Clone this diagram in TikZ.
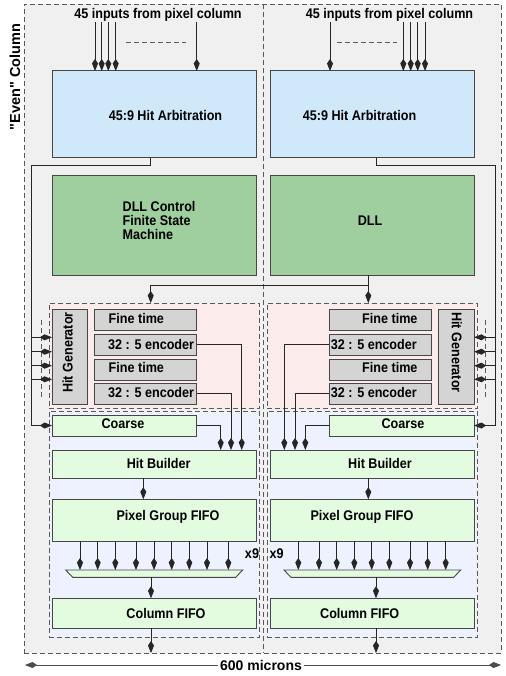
\documentclass[tikz,border=0pt]{standalone}
\usepackage{fontspec}
\setmainfont{Liberation Sans}[FakeStretch=0.9]
\newfontfamily\widefont{Liberation Sans}
\usetikzlibrary{arrows.meta}
\definecolor{bgc}{HTML}{F0F0F0}
\definecolor{pinkc}{HTML}{FCEBEB}
\definecolor{bluec}{HTML}{EEF2FE}
\definecolor{halc}{HTML}{CFE9FB}
\definecolor{dllc}{HTML}{9FCE9F}
\definecolor{lgc}{HTML}{E3FBDF}
\definecolor{grc}{HTML}{D4D4D4}
\begin{document}
\begin{tikzpicture}[x=1pt,y=-1pt,
  lbl/.style={font=\fontsize{14}{14}\selectfont\bfseries, inner sep=0pt, text height=10.2pt, text depth=0pt},
  blk/.style={draw=black!72, line width=1pt, inner sep=0pt, outer sep=0pt, anchor=north west},
  region/.style={draw=black!65, line width=0.8pt, dash pattern=on 5pt off 3pt, inner sep=0pt, outer sep=0pt, anchor=north west},
  dsh/.style={draw=black!65, line width=0.8pt, dash pattern=on 5pt off 3pt},
  wire/.style={draw=black!85, line width=0.9pt},
  arr/.style={wire, -{Kite[length=12pt,width=6pt,inset=4.5pt]}},
  dimarr/.style={draw=black!70, line width=0.8pt, -{Kite[length=12pt,width=6pt,inset=4.5pt]}}]
\useasboundingbox (0,0) rectangle (505,676);

% outer background
\node[region, fill=bgc, minimum width=477pt, minimum height=649pt] (outer) at (24,4) {};
\coordinate (midtop) at (263,4);
\draw[dsh] (midtop) -- (midtop |- outer.south);

% regions
\node[region, fill=pinkc, minimum width=210.5pt, minimum height=105pt] (pinkL) at (49,303) {};
\node[region, fill=pinkc, minimum width=210.5pt, minimum height=105pt] (pinkR) at (267,303) {};
\node[region, fill=bluec, minimum width=210.5pt, minimum height=226pt] (blueL) at (49,411) {};
\node[region, fill=bluec, minimum width=210.5pt, minimum height=226pt] (blueR) at (267,411) {};

% blocks
\node[blk, fill=halc, minimum width=204pt, minimum height=87pt] (haL) at (52,71) {};
\node[blk, fill=halc, minimum width=204pt, minimum height=87pt] (haR) at (270,71) {};
\node[blk, fill=dllc, minimum width=204pt, minimum height=99pt] (dllL) at (52,176) {};
\node[blk, fill=dllc, minimum width=204pt, minimum height=99pt] (dllR) at (270,176) {};
\node[blk, fill=grc, minimum width=35.5pt, minimum height=95pt] (hgL) at (52,309.3) {};
\node[blk, fill=grc, minimum width=35.5pt, minimum height=95pt] (hgR) at (438.5,309.3) {};
\node[blk, fill=grc, minimum width=102pt, minimum height=21.4pt] (ftL1) at (94.7,309.3) {};
\node[blk, fill=grc, minimum width=102pt, minimum height=21pt] (encL1) at (94.7,334.3) {};
\node[blk, fill=grc, minimum width=102pt, minimum height=21pt] (ftL2) at (94.7,359) {};
\node[blk, fill=grc, minimum width=102pt, minimum height=21pt] (encL2) at (94.7,383.3) {};
\node[blk, fill=grc, minimum width=102.4pt, minimum height=21.4pt] (ftR1) at (329.3,309.3) {};
\node[blk, fill=grc, minimum width=102.4pt, minimum height=21pt] (encR1) at (329.3,334.3) {};
\node[blk, fill=grc, minimum width=102.4pt, minimum height=21pt] (ftR2) at (329.3,359) {};
\node[blk, fill=grc, minimum width=102.4pt, minimum height=21pt] (encR2) at (329.3,383.3) {};
\node[blk, fill=lgc, minimum width=144.7pt, minimum height=21pt] (coL) at (52,415) {};
\node[blk, fill=lgc, minimum width=144.7pt, minimum height=21pt] (coR) at (329.3,415) {};
\node[blk, fill=lgc, minimum width=204pt, minimum height=28.3pt] (hbL) at (52,450) {};
\node[blk, fill=lgc, minimum width=204pt, minimum height=28.3pt] (hbR) at (270,450) {};
\node[blk, fill=lgc, minimum width=204pt, minimum height=41.7pt] (pgL) at (52,499.3) {};
\node[blk, fill=lgc, minimum width=204pt, minimum height=41.7pt] (pgR) at (270,499.3) {};
\node[blk, fill=lgc, minimum width=204pt, minimum height=30pt] (cfL) at (52,598.3) {};
\node[blk, fill=lgc, minimum width=204pt, minimum height=30pt] (cfR) at (270,598.3) {};

% multiplexers
\node[inner sep=0pt, outer sep=0pt, anchor=north west, minimum width=177pt, minimum height=7.3pt] (muxL) at (65.7,570) {};
\node[inner sep=0pt, outer sep=0pt, anchor=north west, minimum width=176.7pt, minimum height=7.3pt] (muxR) at (284,570) {};
\draw[draw=black!72, line width=0.9pt, fill=lgc] (muxL.north west) -- (muxL.north east) -- ([xshift=-7pt]muxL.south east) -- ([xshift=7pt]muxL.south west) -- cycle;
\draw[draw=black!72, line width=0.9pt, fill=lgc] (muxR.north west) -- (muxR.north east) -- ([xshift=-7pt]muxR.south east) -- ([xshift=7pt]muxR.south west) -- cycle;

% texts
\node[lbl] (t45L) at (158,13.3) {45 inputs from pixel column};
\node[lbl] (t45R) at (389.5,13.3) {45 inputs from pixel column};
\node[lbl] (tHAL) at (165.5,115) {45:9 Hit Arbitration};
\node[lbl] (tHAR) at (359.5,115) {45:9 Hit Arbitration};
\node[font=\fontsize{14}{13.8}\selectfont\bfseries, inner sep=0pt, align=left, anchor=west] (tDC) at (122.5,220.5) {DLL Control\\Finite State\\Machine};
\node[lbl] (tDLL) at (370,220.5) {DLL};
\node[lbl, rotate=90] (tHGL) at (67.5,352.5) {Hit Generator};
\node[lbl, rotate=-90] (tHGR) at (457,352.5) {Hit Generator};
\node[lbl, anchor=west] (tFL1) at (108.5,318.3) {Fine time};
\node[lbl, anchor=west] (tEL1) at (108,344) {32 : 5 encoder};
\node[lbl, anchor=west] (tFL2) at (108.5,367.3) {Fine time};
\node[lbl, anchor=west] (tEL2) at (108,392.3) {32 : 5 encoder};
\node[lbl, anchor=east] (tFR1) at (417.7,318.3) {Fine time};
\node[lbl, anchor=east] (tER1) at (417,344) {32 : 5 encoder};
\node[lbl, anchor=east] (tFR2) at (417.7,367.3) {Fine time};
\node[lbl, anchor=east] (tER2) at (417,392.3) {32 : 5 encoder};
\node[lbl] (tCoL) at (123,423.7) {Coarse};
\node[lbl] (tCoR) at (403,423.7) {Coarse};
\node[lbl] (tHBL) at (158.7,463) {Hit Builder};
\node[lbl] (tHBR) at (380,463) {Hit Builder};
\node[lbl] (tPGL) at (168,515.8) {Pixel Group FIFO};
\node[lbl] (tPGR) at (362,515.8) {Pixel Group FIFO};
\node[lbl] (tCFL) at (166,613.7) {Column FIFO};
\node[lbl] (tCFR) at (359.7,613.7) {Column FIFO};
\node[lbl] (x9L) at (252,553.8) {x9};
\node[lbl] (x9R) at (276.7,553.8) {x9};
\node[lbl, font=\widefont\fontsize{14.5}{14.5}\selectfont\bfseries, rotate=90] (tEven) at (15,77) {"Even" Column};
\node[lbl, font=\widefont\fontsize{14}{14}\selectfont\bfseries, fill=white, inner xsep=2pt] (tMic) at (261,665.3) {600 microns};

% dimension line
\coordinate (dimL) at (25,665);
\coordinate (dimR) at (501,665);
\draw[dimarr] (tMic.west |- dimL) -- (dimL);
\draw[dimarr] (tMic.east |- dimR) -- (dimR);

% input arrows
\foreach \x [count=\i] in {95,101.7,108.3,115.7,196.7} {
  \coordinate (inL\i) at (\x,22);
  \draw[arr] (inL\i) -- (inL\i |- haL.north);
}
\foreach \x [count=\i] in {330,403.3,410.7,417.7,425} {
  \coordinate (inR\i) at (\x,22);
  \draw[arr] (inR\i) -- (inR\i |- haR.north);
}
\coordinate (elL1) at (126,42.7); \coordinate (elL2) at (186,42.7);
\coordinate (elR1) at (337,42.7); \coordinate (elR2) at (397,42.7);
\draw[dsh] (elL1) -- (elL2);
\draw[dsh] (elR1) -- (elR2);

% hit generator ellipsis
\coordinate (hdL1) at (41.7,320); \coordinate (hdL2) at (41.7,397);
\coordinate (hdR1) at (485.7,320); \coordinate (hdR2) at (485.7,397);
\draw[dsh] (hdL1) -- (hdL2);
\draw[dsh] (hdR1) -- (hdR2);

% arbitration outputs
\coordinate (bL1) at (150.7,165); \coordinate (bL2) at (31.7,165);
\coordinate (bR1) at (376,165); \coordinate (bR2) at (495.5,165);
\draw[arr] (bL1 |- haL.south) -- (bL1) -- (bL2) |- (coL.west);
\draw[arr] (bR1 |- haR.south) -- (bR1) -- (bR2) |- (coR.east);
\foreach \y [count=\i] in {337.3,351.7,365.7,379.3} {
  \coordinate (gL\i) at (31.7,\y);
  \coordinate (gR\i) at (495.5,\y);
  \draw[arr] (gL\i) -- (gL\i -| hgL.west);
  \draw[arr] (gR\i) -- (gR\i -| hgR.east);
}

% DLL distribution
\coordinate (dB) at (368.3,285.7);
\coordinate (dL) at (150.7,285.7);
\draw[wire] (dB |- dllR.south) -- (dB);
\draw[arr] (dB) -- (dB |- pinkR.north);
\draw[arr] (dB) -- (dL) -- (dL |- pinkL.north);

% encoders to hit builder
\coordinate (xL1) at (241.7,0); \coordinate (xL2) at (231,0); \coordinate (xL3) at (220.7,0);
\coordinate (xR1) at (284.3,0); \coordinate (xR2) at (295,0); \coordinate (xR3) at (305.3,0);
\draw[arr] (encL1.east) -| (xL1 |- hbL.north);
\draw[arr] (encL2.east) -| (xL2 |- hbL.north);
\draw[arr] (coL.east) -| (xL3 |- hbL.north);
\draw[arr] (encR1.west) -| (xR1 |- hbR.north);
\draw[arr] (encR2.west) -| (xR2 |- hbR.north);
\draw[arr] (coR.west) -| (xR3 |- hbR.north);

% hit builder to pixel group FIFO
\coordinate (hpL) at (143.3,0); \coordinate (hpR) at (368.3,0);
\draw[arr] (hpL |- hbL.south) -- (hpL |- pgL.north);
\draw[arr] (hpR |- hbR.south) -- (hpR |- pgR.north);

% pixel group FIFO to mux
\foreach \x [count=\i] in {80,97.7,115.3,136,154,171.7,189.3,207,228.3} {
  \coordinate (mL\i) at (\x,0);
  \draw[arr] (mL\i |- pgL.south) -- (mL\i |- muxL.north);
}
\foreach \x [count=\i] in {298.3,319,336.7,354.3,371.7,389.3,410,427.7,445.7} {
  \coordinate (mR\i) at (\x,0);
  \draw[arr] (mR\i |- pgR.south) -- (mR\i |- muxR.north);
}

% mux to column FIFO and out
\coordinate (cL) at (151,0); \coordinate (cR) at (376,0);
\draw[arr] (cL |- muxL.south) -- (cL |- cfL.north);
\draw[arr] (cR |- muxR.south) -- (cR |- cfR.north);
\draw[arr] (cL |- cfL.south) -- (cL |- outer.south);
\draw[arr] (cR |- cfR.south) -- (cR |- outer.south);
\end{tikzpicture}
\end{document}
